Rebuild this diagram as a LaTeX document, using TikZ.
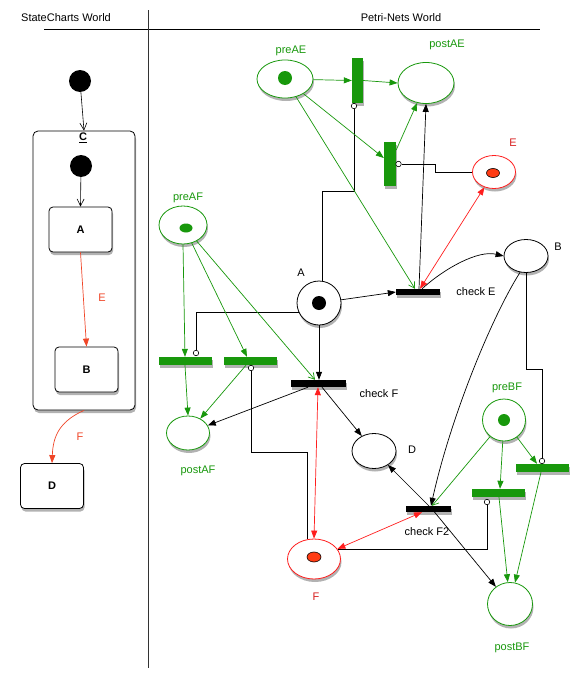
\documentclass[tikz,border=0pt]{standalone}
\usepackage{fontspec}
\setmainfont{Liberation Sans}
\usetikzlibrary{shapes.geometric,arrows.meta,shadows}
\definecolor{pgreen}{RGB}{24,152,12}
\definecolor{pred}{RGB}{255,30,30}
\definecolor{tokred}{RGB}{255,60,20}
\definecolor{lblred}{RGB}{215,30,30}
\definecolor{scred}{RGB}{240,70,40}
\begin{document}
\begin{tikzpicture}[x=1pt,y=-1pt,font=\fontsize{11}{13}\selectfont,
  shd/.style={drop shadow={shadow xshift=1pt,shadow yshift=-3pt,opacity=0.3,fill=black}},
  place/.style={ellipse,draw,fill=white,inner sep=0pt,line width=0.8pt,shd},
  gplace/.style={place,draw=pgreen},
  rplace/.style={place,draw=pred},
  kplace/.style={place,draw=black},
  gbar/.style={rectangle,fill=pgreen,inner sep=0pt,shd},
  kbar/.style={rectangle,fill=black,inner sep=0pt,shd},
  inhib/.style={circle,draw,fill=white,inner sep=0pt,minimum size=5.5pt,line width=0.6pt},
  gtok/.style={ellipse,fill=pgreen,inner sep=0pt},
  rtok/.style={ellipse,fill=tokred,draw=black,line width=0.6pt,inner sep=0pt},
  glbl/.style={text=pgreen,inner sep=0pt},
  rlbl/.style={text=lblred,inner sep=0pt},
  klbl/.style={text=black,inner sep=0pt},
  scstate/.style={rectangle,rounded corners=4pt,draw,fill=white,line width=0.8pt,minimum width=63pt,minimum height=45pt,font=\fontsize{11}{13}\selectfont\bfseries,shd},
  initdot/.style={circle,fill=black,inner sep=0pt,minimum size=22pt},
  sca/.style={-{Straight Barb[length=7pt,width=7pt]},line width=0.6pt},
  sred/.style={scred,-{Triangle[length=8pt,width=6pt]},line width=0.7pt},
  ka/.style={-{Triangle[length=8pt,width=6pt]},line width=0.7pt},
  ga/.style={pgreen,-{Triangle[length=8pt,width=6pt]},line width=0.7pt},
  gopen/.style={pgreen,-{Straight Barb[length=6pt,width=7pt]},line width=0.7pt},
  rdbl/.style={pred,{Triangle[length=8pt,width=6pt]}-{Triangle[length=8pt,width=6pt]},line width=0.7pt},
  inhline/.style={line width=0.7pt}
]
\useasboundingbox (0,0) rectangle (588,680);
\fill[white] (0,0) rectangle (588,680);

% headers
\node[klbl] (hsc) at (66,18) {StateCharts World};
\node[klbl] (hpn) at (401,18) {Petri-Nets World};
\draw[line width=0.7pt] (44,29) -- (540,29);
\draw[line width=1pt,black!80] (148,10) -- (148,668);

% ---------------- StateCharts ----------------
\node[initdot] (i0) at (80,81) {};
\node[scstate,rounded corners=5pt,minimum width=102pt,minimum height=279pt] (C) at (84,270.5) {};
\node[klbl,font=\fontsize{11}{13}\selectfont\bfseries] (Clbl) at (83,138) {\underline{C}};
\node[initdot] (i1) at (81,166) {};
\node[scstate] (SA) at (80.5,229.5) {A};
\node[scstate] (SB) at (86.5,369.5) {B};
\node[scstate] (SD) at (52,486) {D};

\draw[sca] (i0) -- (C.north);
\draw[sca] (i1) -- (SA.north);
\draw[sred] (SA.south) -- (SB.north);
\node[text=scred,inner sep=0pt] (lE1) at (102,298) {E};
\draw[sred] (C.south) .. controls (58,422) and (53,438) .. (SD.north);
\node[text=scred,inner sep=0pt] (lF1) at (80,437) {F};

% ---------------- Petri nets ----------------
% places
\node[gplace,minimum width=56pt,minimum height=38pt] (preAE) at (285,79) {};
\node[gtok,minimum width=14pt,minimum height=14pt] (tkAE) at (285,78) {};
\node[glbl] (lpreAE) at (291,51) {preAE};

\node[gplace,minimum width=56pt,minimum height=41pt] (postAE) at (426,83) {};
\node[glbl] (lpostAE) at (447,45) {postAE};

\node[rplace,minimum width=43pt,minimum height=33pt] (E) at (494,172) {};
\node[rtok,minimum width=13pt,minimum height=9pt] (tkE) at (493,173) {};
\node[rlbl] (lE) at (513,143) {E};

\node[kplace,circle,minimum size=44pt] (A) at (319,303) {};
\node[circle,fill=black,inner sep=0pt,minimum size=14pt] (tkA) at (319,303) {};
\node[klbl] (lA) at (301,273) {A};

\node[kplace,minimum width=44pt,minimum height=33pt] (B) at (526,256) {};
\node[klbl] (lB) at (558,247) {B};

\node[gplace,minimum width=48pt,minimum height=38pt] (preAF) at (183,225) {};
\node[gtok,minimum width=13pt,minimum height=9pt] (tkAF) at (186,228) {};
\node[glbl] (lpreAF) at (188,198) {preAF};

\node[gplace,minimum width=43pt,minimum height=34pt] (postAF) at (188,433) {};
\node[glbl] (lpostAF) at (198,471) {postAF};

\node[kplace,minimum width=44pt,minimum height=35pt] (D) at (374,451) {};
\node[klbl] (lD) at (412,450) {D};

\node[rplace,minimum width=53pt,minimum height=40pt] (F) at (314,559) {};
\node[rtok,minimum width=14pt,minimum height=10pt] (tkF) at (314,557) {};
\node[rlbl] (lF) at (316,597) {F};

\node[gplace,minimum width=43pt,minimum height=42pt] (preBF) at (504,420) {};
\node[gtok,minimum width=12pt,minimum height=12pt] (tkBF) at (504,420) {};
\node[glbl] (lpreBF) at (507,388) {preBF};

\node[gplace,minimum width=45pt,minimum height=43pt] (postBF) at (510,604) {};
\node[glbl] (lpostBF) at (512,648) {postBF};

% transitions
\node[gbar,minimum width=11pt,minimum height=45pt] (tAE1) at (357.5,80.5) {};
\node[gbar,minimum width=12pt,minimum height=44pt] (tAE2) at (390,164) {};
\node[kbar,minimum width=44pt,minimum height=6pt] (tCE) at (418,292) {};
\node[klbl] (lCE) at (476,292) {check E};
\node[gbar,minimum width=53pt,minimum height=8pt] (tAF1) at (185,361) {};
\node[gbar,minimum width=53pt,minimum height=8pt] (tAF2) at (250,361) {};
\node[kbar,minimum width=55pt,minimum height=7pt] (tCF) at (318,383.5) {};
\node[klbl] (lCF) at (379,394) {check F};
\node[kbar,minimum width=45pt,minimum height=6pt] (tCF2) at (428,509) {};
\node[klbl] (lCF2) at (427,532) {check F2};
\node[gbar,minimum width=53pt,minimum height=8pt] (tBF1) at (498,493) {};
\node[gbar,minimum width=53pt,minimum height=8pt] (tBF2) at (542,468) {};

% inhibitor circles
\node[inhib] (inAE1) at (354,106) {};
\node[inhib] (inAE2) at (398.5,164) {};
\node[inhib] (inAF1) at (196,353) {};
\node[inhib] (inAF2) at (251,368) {};
\node[inhib] (inBF1) at (487,502) {};
\node[inhib] (inBF2) at (542,461) {};

% inhibitor lines
\draw[inhline] (inAE1.south) -- (inAE1 |- 0,191) -| ([xshift=3pt]A.north);
\draw[inhline] (inAE2.east) -- ++(34,0) |- (E.west);
\draw[inhline] (inAF1.north) |- (A.204);
\draw[inhline] (inAF2.south) -- (inAF2 |- 0,452) -| ([xshift=-7pt]F.north);
\draw[inhline] (inBF1.south) |- (F.21);
\draw[inhline] (B.south) -- (B.south |- 0,369) -| (inBF2.north);

% green arcs
\draw[ga] (preAE) -- (tAE1.west);
\draw[ga] (tAE1.east) -- (postAE.west);
\draw[ga] (preAE) -- ([yshift=6pt]tAE2.west);
\draw[ga] ([yshift=14pt]tAE2.east) -- (postAE);
\draw[gopen] (preAE) -- ([xshift=-3pt]tCE.north);
\draw[ga] (preAF.south) -- (tAF1.north);
\draw[ga] (preAF) -- ([xshift=-3pt]tAF2.north);
\draw[gopen] (preAF) -- ([xshift=-3pt]tCF.north);
\draw[ga] (tAF1.south) -- (postAF.north);
\draw[ga] ([xshift=-4pt]tAF2.south) -- (postAF);
\draw[gopen] (preBF) -- ([xshift=4pt]tCF2.north);
\draw[ga] (preBF) -- ([xshift=2pt]tBF1.north);
\draw[ga] (preBF) -- ([xshift=-5pt]tBF2.north);
\draw[ga] ([xshift=1pt]tBF1.south) -- (postBF);
\draw[ga] ([xshift=-1pt]tBF2.south) -- (postBF);

% black arcs
\draw[ka] (A) -- (tCE.west);
\draw[ka] ([xshift=1pt]tCE.north) -- (postAE.south);
\draw[ka] ([xshift=4pt]tCE.north) .. controls (445,268) and (478,250) .. (B.west);
\draw[ka] (A.south) -- ([xshift=1pt]tCF.north);
\draw[ka] ([xshift=-10pt]tCF.south) -- (postAF);
\draw[ka] ([xshift=4pt]tCF.south) -- (D);
\draw[ka] (B.250) .. controls (490,320) and (450,420) .. ([xshift=3pt]tCF2.north);
\draw[ka] ([xshift=4pt]tCF2.center) -- (D);
\draw[ka] ([xshift=4pt]tCF2.center) -- (postBF);

% red arcs
\draw[rdbl] ([xshift=2pt]tCE.north) -- (E);
\draw[rdbl] (tCF.south) -- (F.north);
\draw[rdbl] (F) -- ([xshift=-6pt]tCF2.south);
\end{tikzpicture}
\end{document}
